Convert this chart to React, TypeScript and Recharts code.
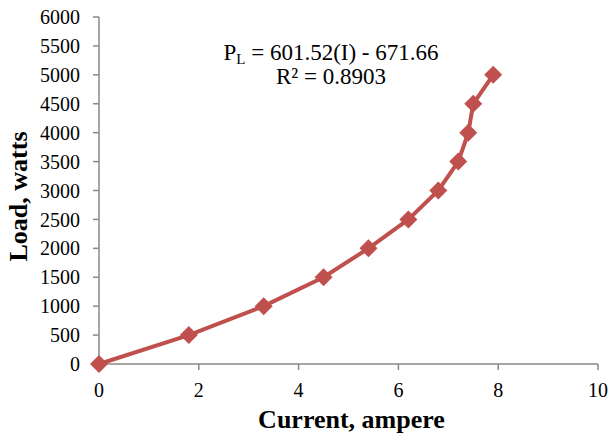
import { LineChart, Line, XAxis, YAxis, Label } from "recharts";

const current = [0, 1.8, 3.3, 4.5, 5.4, 6.2, 6.8, 7.2, 7.4, 7.5, 7.9];
const load = [0, 500, 1000, 1500, 2000, 2500, 3000, 3500, 4000, 4500, 5000];
const xTicks = [0, 2, 4, 6, 8, 10];
const yTicks = [0, 500, 1000, 1500, 2000, 2500, 3000, 3500, 4000, 4500, 5000, 5500, 6000];

const RED = "#C0504D";
const AXIS = "#898989";
const FONT = "'Liberation Serif', 'Times New Roman', serif";

const data = current.map((x, i) => ({ x, y: load[i] }));

function Diamond(props: { cx?: number; cy?: number; index?: number }) {
  const { cx, cy, index } = props;
  if (cx === undefined || cy === undefined) return <g key={index} />;
  const r = 9;
  return (
    <path
      key={index}
      d={`M${cx} ${cy - r} L${cx + r} ${cy} L${cx} ${cy + r} L${cx - r} ${cy} Z`}
      fill={RED}
    />
  );
}

const tickStyle = { fill: "#000", fontSize: 20, fontFamily: FONT };
const titleStyle = { fontFamily: FONT, fontSize: 26, fontWeight: "bold", fill: "#000" };

export default function App() {
  return (
    <div style={{ position: "absolute", left: 0, top: 0, width: 611, height: 439, background: "#fff", fontFamily: FONT }}>
      <LineChart width={611} height={439} data={data} margin={{ top: 17, right: 13, bottom: 0, left: 0 }}>
        <XAxis
          dataKey="x"
          type="number"
          domain={[0, 10]}
          ticks={xTicks}
          height={75}
          stroke={AXIS}
          strokeWidth={1.5}
          tickSize={6}
          tickMargin={13}
          tick={tickStyle}
          tickLine={{ stroke: AXIS, strokeWidth: 1.5 }}
        >
          <Label
            content={({ viewBox }: any) => (
              <text x={viewBox.x + viewBox.width / 2 + 3} y={428} textAnchor="middle" style={titleStyle}>
                Current, ampere
              </text>
            )}
          />
        </XAxis>
        <YAxis
          type="number"
          domain={[0, 6000]}
          ticks={yTicks}
          width={99}
          stroke={AXIS}
          strokeWidth={1.5}
          tickSize={6}
          tickMargin={13}
          tick={tickStyle}
          tickLine={{ stroke: AXIS, strokeWidth: 1.5 }}
          interval={0}
        >
          <Label
            content={({ viewBox }: any) => {
              const cx = 27;
              const cy = viewBox.y + viewBox.height / 2 + 6;
              return (
                <text x={cx} y={cy} textAnchor="middle" transform={`rotate(-90 ${cx} ${cy})`} style={titleStyle}>
                  Load, watts
                </text>
              );
            }}
          />
        </YAxis>
        <Line
          type="linear"
          dataKey="y"
          stroke={RED}
          strokeWidth={4}
          dot={Diamond}
          activeDot={false}
          isAnimationActive={false}
        />
      </LineChart>
      <div
        style={{
          position: "absolute",
          left: 161,
          top: 41,
          width: 340,
          textAlign: "center",
          fontSize: 23,
          lineHeight: "24px",
          color: "#000",
        }}
      >
        <div>
          P<sub style={{ fontSize: 15, verticalAlign: "-4px", lineHeight: 0 }}>L</sub> = 601.52(I) - 671.66
        </div>
        <div>R² = 0.8903</div>
      </div>
    </div>
  );
}
